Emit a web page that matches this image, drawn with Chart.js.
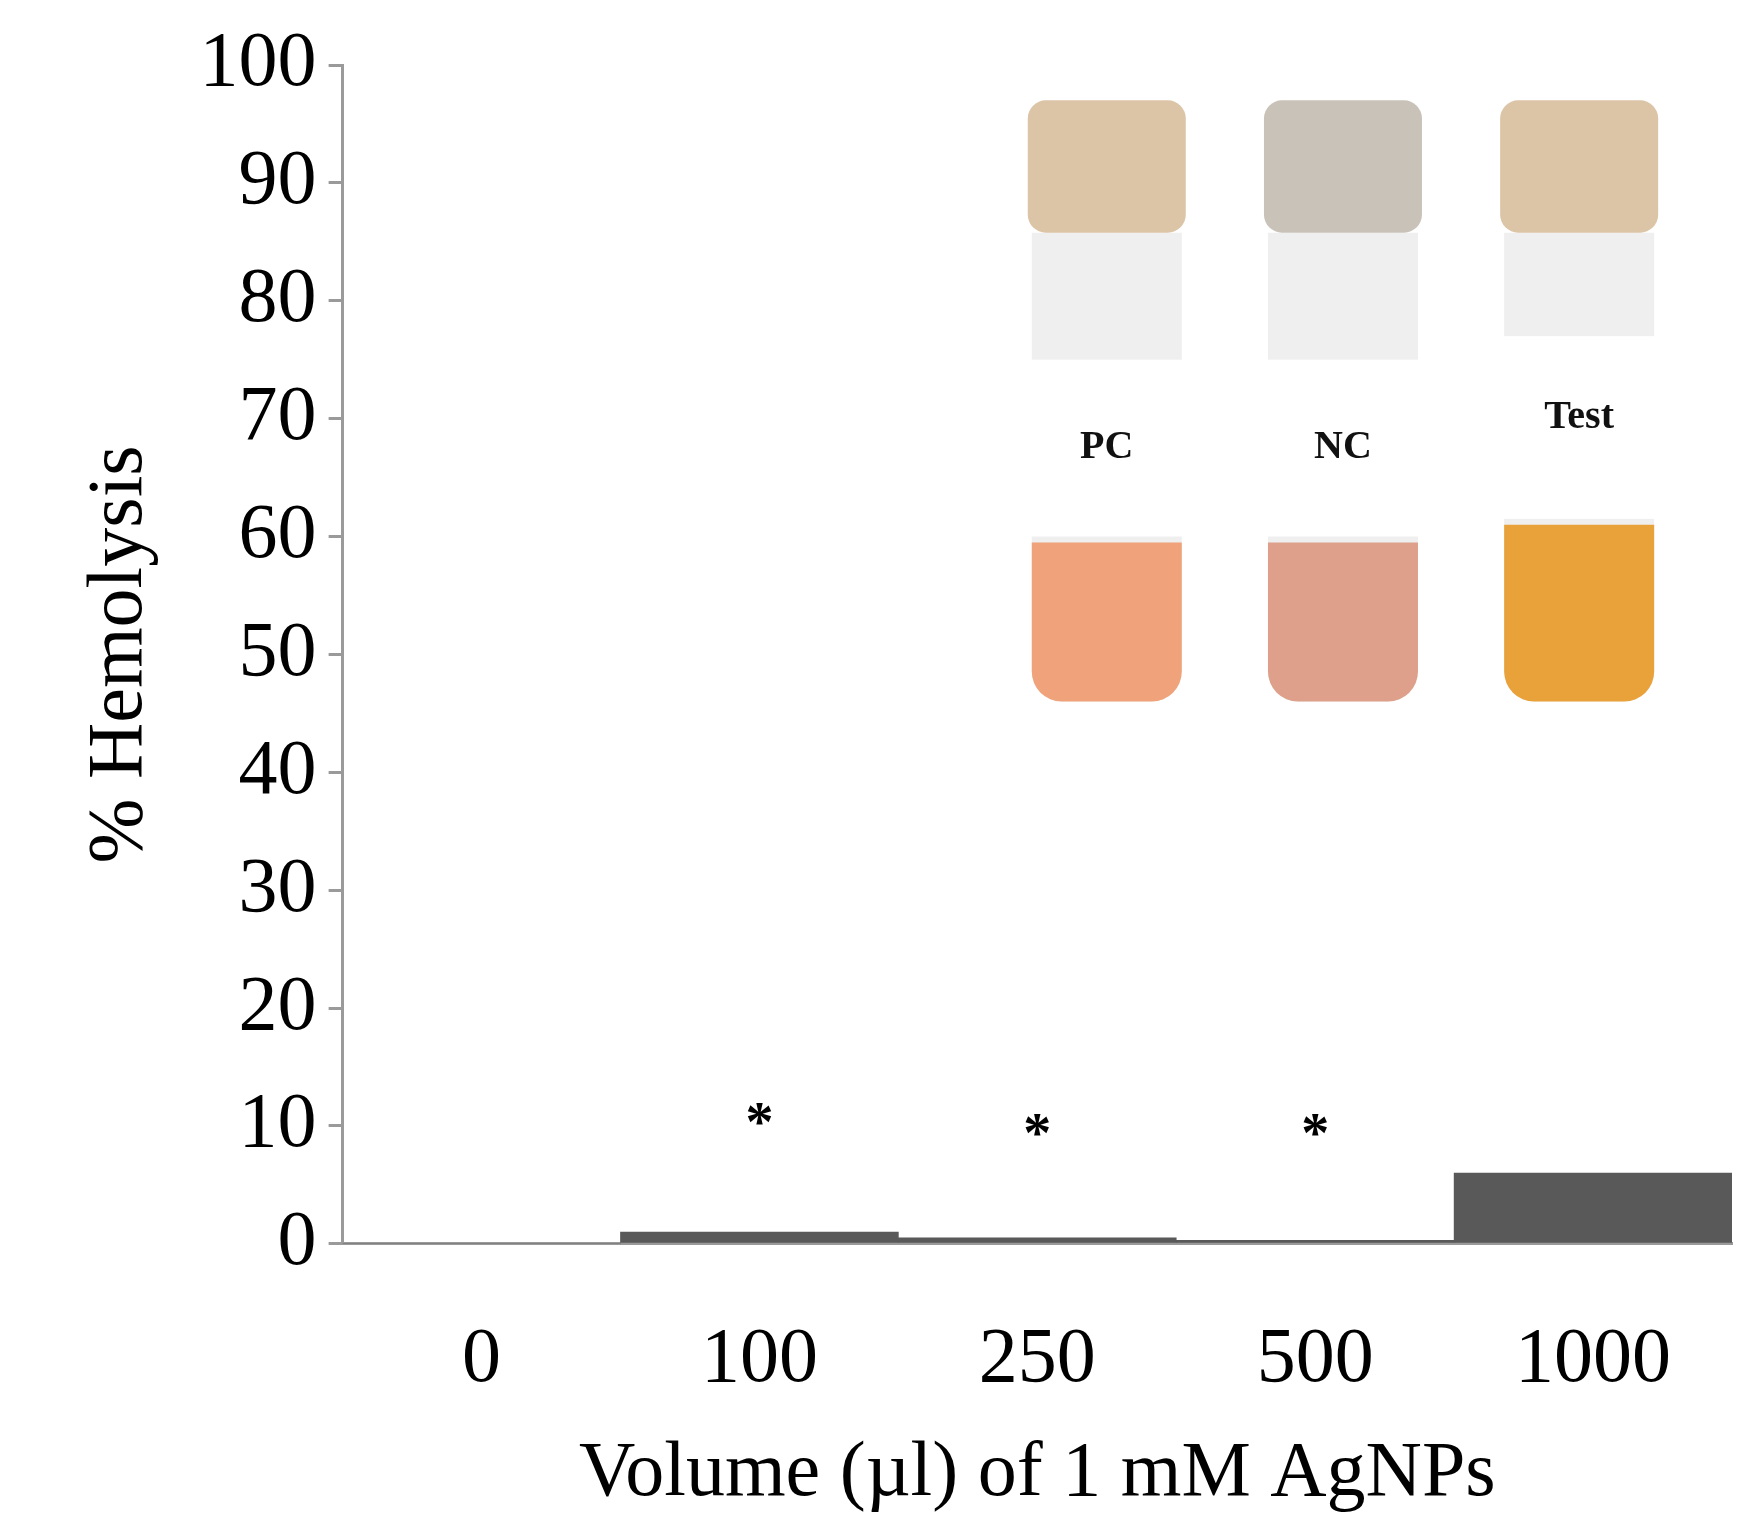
<!DOCTYPE html>
<html><head><meta charset="utf-8">
<script src="https://cdn.jsdelivr.net/npm/chart.js@4/dist/chart.umd.min.js"></script>
<style>html,body{margin:0;background:#fff}#w{width:1752px;height:1535px}</style>
</head><body><div id="w"><canvas id="c"></canvas></div>
<script>
// Données du graphique
const volumes = ['0', '100', '250', '500', '1000'];
const hemolysis = [0, 1.0, 0.5, 0.3, 6.0];
const starLevels = [null, 11, 10, 10, null];
const vialLabels = ['PC', 'NC', 'Test'];
const vialColors = ['#f0a27a', '#dea08a', '#e9a13a'];

const FONT = '"Liberation Serif", "DejaVu Serif", serif';

// Astérisques au-dessus des barres
const starPlugin = {
  id: 'stars',
  afterDatasetsDraw(chart) {
    const {ctx, scales: {x, y}} = chart;
    ctx.save();
    ctx.fillStyle = '#000';
    ctx.font = 'bold 56px ' + FONT;
    ctx.textAlign = 'center';
    ctx.textBaseline = 'middle';
    starLevels.forEach((v, i) => {
      if (v == null) return;
      ctx.fillText('*', x.getPixelForValue(i), y.getPixelForValue(v) + 12);
    });
    ctx.restore();
  }
};

// Encart: flacons (illustration)
const vialPlugin = {
  id: 'vials',
  afterDraw(chart) {
    const {ctx, scales: {x, y}} = chart;
    ctx.save();
    const top = y.getPixelForValue(97), bot = y.getPixelForValue(46);
    const xs = [x.getPixelForValue(2.25), x.getPixelForValue(3.1), x.getPixelForValue(3.95)];
    xs.forEach((cx, i) => {
      const w = 150;
      const capH = (bot - top) * 0.22;
      // verre
      ctx.fillStyle = '#efefef';
      ctx.beginPath(); ctx.roundRect(cx - w / 2, top + capH, w, bot - top - capH, [0, 0, 30, 30]); ctx.fill();
      ctx.fillStyle = i === 1 ? '#c9c2b8' : '#dcc4a6';
      ctx.beginPath(); ctx.roundRect(cx - w / 2 - 4, top, w + 8, capH, 18); ctx.fill();
      const liqTop = y.getPixelForValue(i === 2 ? 61 : 59.5);
      ctx.fillStyle = vialColors[i];
      ctx.beginPath(); ctx.roundRect(cx - w / 2, liqTop, w, bot - liqTop, [0, 0, 30, 30]); ctx.fill();
      const lt = y.getPixelForValue(i === 2 ? 77 : 75), lb = y.getPixelForValue(i === 2 ? 61.5 : 60);
      ctx.fillStyle = '#fff';
      ctx.fillRect(cx - w / 2 - 8, lt, w + 16, lb - lt);
      ctx.fillStyle = '#111';
      ctx.font = 'bold 40px ' + FONT;
      ctx.textAlign = 'center'; ctx.textBaseline = 'middle';
      ctx.fillText(vialLabels[i], cx, (lt + lb) / 2 + (i === 2 ? -10 : 0));
    });
    ctx.restore();
  }
};

new Chart(document.getElementById('c'), {
  type: 'bar',
  data: {
    labels: volumes,
    datasets: [{ data: hemolysis, backgroundColor: '#595959', barPercentage: 1, categoryPercentage: 1 }]
  },
  options: {
    responsive: true, maintainAspectRatio: false, animation: false,
    layout: { padding: { top: 65, right: 20, bottom: 10, left: 70 } },
    plugins: { legend: { display: false }, tooltip: { enabled: false } },
    scales: {
      x: {
        grid: { display: false, drawTicks: false },
        border: { color: '#9a9a9a', width: 3 },
        ticks: { color: '#000', padding: 70, font: { family: FONT, size: 78 } },
        title: { display: true, text: 'Volume (µl) of 1 mM AgNPs', color: '#000', padding: { top: -50 }, font: { family: FONT, size: 78 } }
      },
      y: {
        min: 0, max: 100,
        grid: { display: true, drawOnChartArea: false, drawTicks: true, tickLength: 14, color: '#9a9a9a', lineWidth: 3 },
        border: { color: '#9a9a9a', width: 3 },
        ticks: { stepSize: 10, color: '#000', padding: 12, font: { family: FONT, size: 78 } },
        title: { display: true, text: '% Hemolysis', color: '#000', padding: { bottom: 20 }, font: { family: FONT, size: 78 } }
      }
    }
  },
  plugins: [starPlugin, vialPlugin]
});
</script></body></html>
